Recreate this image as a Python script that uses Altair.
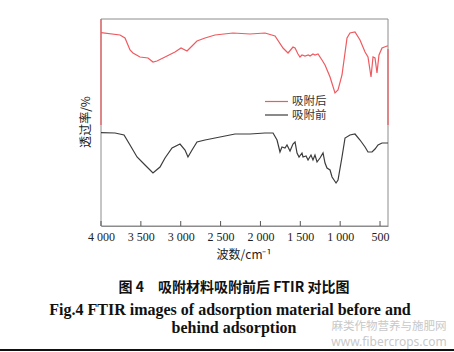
import altair as alt
import pandas as pd

# ---- data ----
after_wn = [4000, 3762, 3699, 3636, 3599, 3511, 3410, 3348, 3298, 3197, 3072, 2996, 2921, 2858,
            2796, 2695, 2570, 2344, 2131, 1943, 1817, 1717, 1654, 1592, 1566, 1529, 1504, 1479,
            1441, 1400, 1378, 1341, 1316, 1278, 1228, 1190, 1127, 1065, 1027, 977, 914, 877,
            814, 751, 688, 651, 613, 588, 563, 538, 513, 475, 412, 400]
after_t = [193.3, 191, 188, 176, 173, 169, 168, 164, 165, 169, 174, 178, 175, 180,
           185, 188, 191, 193, 192, 193, 190, 178, 173, 179, 178, 172, 169, 171,
           170, 171, 170, 172, 171, 172, 166, 161, 149, 133, 136, 151, 188, 193,
           194, 186, 174, 169, 149, 169, 168, 153, 171, 178, 180, 180]

before_wn = [4000, 3824, 3711, 3636, 3548, 3448, 3348, 3260, 3197, 3109, 3009, 2946, 2909, 2858,
             2796, 2695, 2507, 2319, 2131, 1943, 1842, 1792, 1755, 1730, 1692, 1667, 1629, 1592,
             1566, 1541, 1516, 1479, 1466, 1428, 1403, 1366, 1341, 1316, 1290, 1253, 1215, 1190,
             1165, 1127, 1102, 1077, 1052, 1027, 977, 939, 877, 814, 751, 688, 651, 600, 563,
             525, 475, 412, 400]
before_t = [93.3, 93, 91, 81, 69, 61, 53, 59, 68, 78, 82, 76, 69, 76,
            84, 86, 89, 92, 92, 93, 93, 86, 74, 79, 78, 81, 75, 82,
            84, 73, 69, 73, 69, 70, 66, 71, 66, 71, 64, 68, 73, 63,
            58, 56, 49, 46, 43, 46, 69, 88, 91, 92, 86, 79, 74, 74, 77,
            81, 83, 83, 83]

series_names = ["吸附后", "吸附前"]
tick_values = [4000, 3500, 3000, 2500, 2000, 1500, 1000, 500]

RED = "#ee5a5f"
DARK = "#3c3c3c"
FRAME = "#8c8c8c"
W, H = 287, 207

df = pd.concat([
    pd.DataFrame({"wn": after_wn, "t": after_t, "s": series_names[0], "o": range(len(after_wn))}),
    pd.DataFrame({"wn": before_wn, "t": before_t, "s": series_names[1], "o": range(len(before_wn))}),
])
ticks_df = pd.DataFrame({"wn": tick_values})

xscale = alt.Scale(domain=[4000, 400], nice=False, zero=False)
yscale = alt.Scale(domain=[0, 207], nice=False, zero=False)
cscale = alt.Scale(domain=series_names, range=[RED, DARK])

one = pd.DataFrame({"k": [0]})


def hrule(y, x1, x2, color, width=1.0):
    return alt.Chart(one).mark_rule(color=color, strokeWidth=width).encode(
        x=alt.value(x1), x2=alt.value(x2), y=alt.value(y))


def vrule(x, y1, y2, color, width=1.0):
    return alt.Chart(one).mark_rule(color=color, strokeWidth=width).encode(
        x=alt.value(x), y=alt.value(y1), y2=alt.value(y2))


def full_h(y):
    return alt.Chart(one).mark_rule(color=FRAME, strokeWidth=1).encode(y=alt.value(y))


def full_v(x):
    return alt.Chart(one).mark_rule(color=FRAME, strokeWidth=1).encode(x=alt.value(x))


lines = alt.Chart(df).mark_line(strokeWidth=1.2, clip=True).encode(
    x=alt.X("wn:Q", scale=xscale,
            axis=alt.Axis(values=tick_values, title=None, tickSize=0, grid=False,
                          domain=True, domainColor=FRAME, domainWidth=1,
                          labelExpr="replace(format(datum.value, ','), ',', ' ')",
                          labelFont="Liberation Serif", labelFontSize=12, labelColor="#222",
                          labelPadding=5, labelFlush=False)),
    y=alt.Y("t:Q", scale=yscale, axis=None),
    color=alt.Color("s:N", scale=cscale, legend=None),
    order="o:Q",
)

tick_marks = alt.Chart(ticks_df).mark_rule(color="#555", strokeWidth=1).encode(
    x=alt.X("wn:Q", scale=xscale), y=alt.value(H), y2=alt.value(H - 5))


def txt(s, x, y, size, font, weight="normal", color="#111", angle=0, align="center"):
    return alt.Chart(one).mark_text(
        text=s, fontSize=size, font=font, fontWeight=weight, color=color, angle=angle,
        align=align, baseline="middle").encode(x=alt.value(x), y=alt.value(y))


frame = [
    full_h(0), full_h(H), full_v(0), full_v(W),
    vrule(0, 0, 106, RED, 1.2), vrule(W, 30, 106, RED, 1.2),
]

chart = alt.layer(
    *frame, lines, tick_marks,
    hrule(82.5, 164, 187, RED, 1.2), hrule(96, 164, 187, DARK, 1.2),
    txt(series_names[0], 191, 83, 11.5, "Noto Sans CJK SC", color="#333", align="left"),
    txt(series_names[1], 191, 97, 11.5, "Noto Sans CJK SC", color="#333", align="left"),
    txt("波数/cm⁻¹", 143, 236, 12, "Noto Sans CJK SC", color="#222"),
    txt("透过率/%", -15, 103, 12, "Noto Sans CJK SC", color="#222", angle=270),
    txt("图 4　吸附材料吸附前后 FTIR 对比图", 133, 269, 14, "Noto Sans CJK SC", "bold"),
    txt("Fig.4 FTIR images of adsorption material before and", 129, 291, 16,
        "Liberation Serif", "bold"),
    txt("behind adsorption", 133, 309, 16, "Liberation Serif", "bold"),
    txt("麻类作物营养与施肥网", 288, 308, 11.5, "Noto Sans CJK SC", color="#c8c8c8"),
    txt("www.fibercrops.com", 288, 323, 12, "Noto Sans", color="#c8c8c8"),
    hrule(331, -101, 353, "#111", 2),
).properties(
    width=W, height=H,
    padding={"left": 101, "top": 19, "right": 66, "bottom": 126},
    autosize=alt.AutoSizeParams(type="none"),
    background="white",
).configure_view(stroke=None)

chart.save("out.html", embed_options={"renderer": "svg", "actions": False})
